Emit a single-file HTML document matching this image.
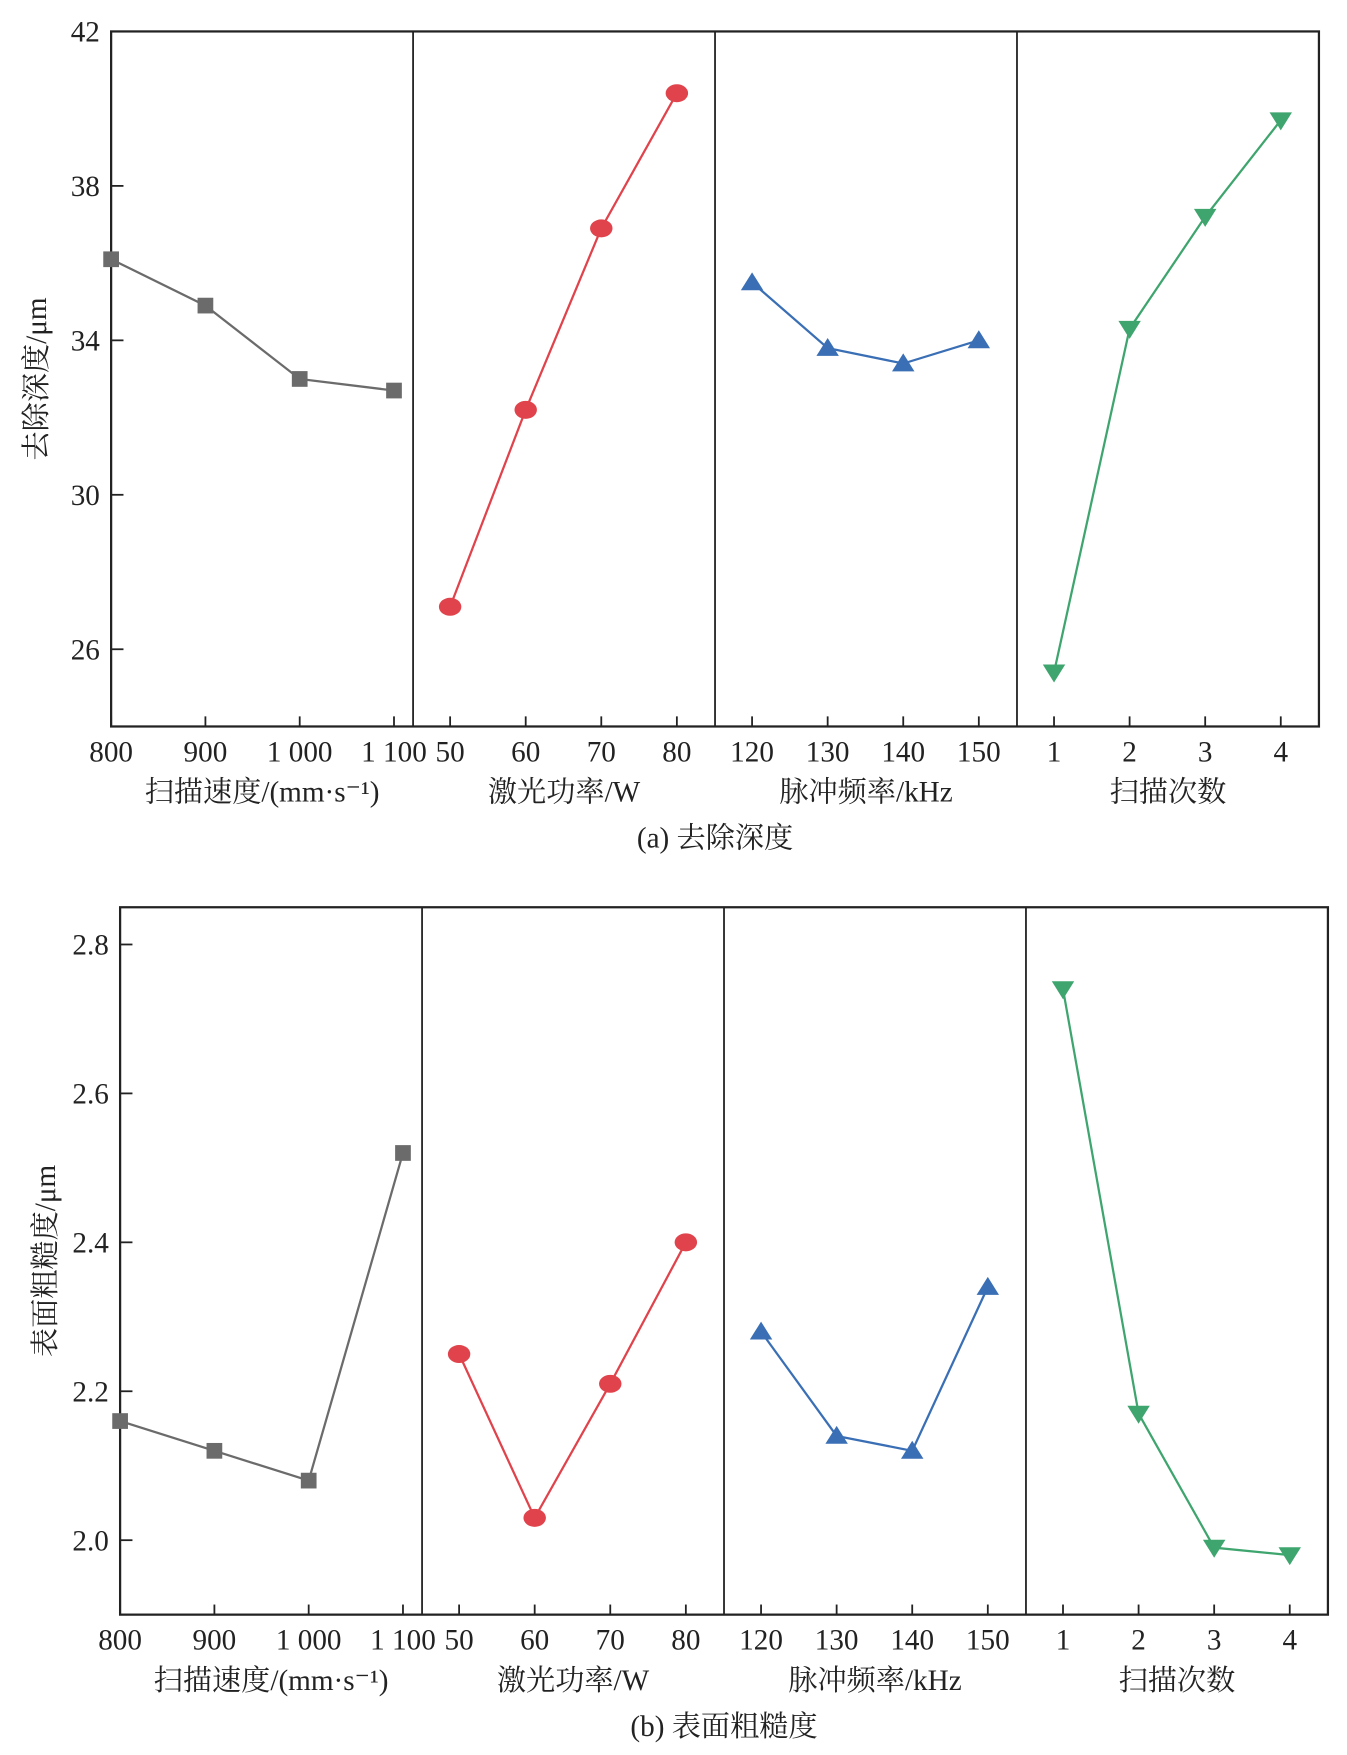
<!DOCTYPE html>
<html><head><meta charset="utf-8">
<style>
html,body{margin:0;padding:0;background:#fff;}
svg{display:block;}
text{font-family:"Liberation Serif","Noto Serif CJK SC",serif;fill:#222;}
</style></head>
<body>
<svg id="chart" width="1347" height="1755" viewBox="0 0 1200 1563" preserveAspectRatio="none" xmlns="http://www.w3.org/2000/svg" font-family="Liberation Serif, Noto Serif CJK SC, serif"></svg>
<script>
// ---- data ----
const speedCats = [800, 900, 1000, 1100];
const powerCats = [50, 60, 70, 80];
const freqCats = [120, 130, 140, 150];
const passCats = [1, 2, 3, 4];
const speedLabels = ["800", "900", "1 000", "1 100"];
const powerLabels = ["50", "60", "70", "80"];
const freqLabels = ["120", "130", "140", "150"];
const passLabels = ["1", "2", "3", "4"];
const depthSpeed = [36.1, 34.9, 33.0, 32.7];
const depthPower = [27.1, 32.2, 36.9, 40.4];
const depthFreq = [35.5, 33.8, 33.4, 34.0];
const depthPass = [25.4, 34.3, 37.2, 39.7];
const roughSpeed = [2.16, 2.12, 2.08, 2.52];
const roughPower = [2.25, 2.03, 2.21, 2.40];
const roughFreq = [2.28, 2.14, 2.12, 2.34];
const roughPass = [2.74, 2.17, 1.99, 1.98];
const depthTicks = [26, 30, 34, 38, 42];
const roughTicks = [2.0, 2.2, 2.4, 2.6, 2.8];
const panelTitles = ["扫描速度/(mm·s⁻¹)", "激光功率/W", "脉冲频率/kHz", "扫描次数"];

const NS = "http://www.w3.org/2000/svg";
const svg = document.getElementById("chart");
const FF = '"Liberation Serif","Noto Serif CJK SC",serif';
function el(tag, attrs, parent) {
  const e = document.createElementNS(NS, tag);
  for (const k in attrs) e.setAttribute(k, attrs[k]);
  if (tag === "text") e.setAttribute("style", "font-family:" + FF);
  (parent || svg).appendChild(e);
  return e;
}

const colors = ["#6b6b6b", "#e0434b", "#3a6fb5", "#3fa56e"];
const markers = ["square", "circle", "tri-up", "tri-down"];

function drawChart(cfg) {
  const g = el("g", {});
  
  
  const L = cfg.left, T = cfg.top, B = cfg.bottom, R = L + 4 * 269;
  const pw = (R - L) / 4;
  const y = v => B - (v - cfg.ymin) / (cfg.ymax - cfg.ymin) * (B - T);
  const fr = el("rect", {x: L, y: T, width: R - L, height: B - T, fill: "none", stroke: "#222", "stroke-width": 2}, g);
  
  
  for (let i = 1; i < 4; i++) {
    const d = el("line", {x1: L + i * pw, x2: L + i * pw, y1: T, y2: B, stroke: "#222", "stroke-width": 1.6}, g);
    
    
  }
  cfg.yticks.forEach(t => {
    const yy = y(t);
    const tk = el("line", {x1: L, x2: L + 11, y1: yy, y2: yy, stroke: "#222", "stroke-width": 1.6}, g);
    
    
    const tx = el("text", {x: L - 10, y: yy + 9, "text-anchor": "end", "font-size": 26}, g);
    tx.textContent = cfg.yfmt(t);
    
    
  });
  const yt = el("text", {x: 0, y: 0, "text-anchor": "middle", "font-size": 26, transform: `translate(${L - 58},${(T + B) / 2}) rotate(-90)`}, g);
  yt.textContent = cfg.ytitle;
  
  

  const cats = [speedCats, powerCats, freqCats, passCats];
  const labs = [speedLabels, powerLabels, freqLabels, passLabels];
  cfg.series.forEach((vals, p) => {
    const pl = L + p * pw;
    const a = p === 0 ? pl : pl + 33, b = p === 0 ? pl + 252 : pl + 235;
    const c = cats[p];
    const x = v => a + (v - c[0]) / (c[c.length - 1] - c[0]) * (b - a);
    c.forEach((cv, i) => {
      const xx = x(cv);
      const tk = el("line", {x1: xx, x2: xx, y1: B, y2: B - 9, stroke: "#222", "stroke-width": 1.6}, g);
      
      
      const tx = el("text", {x: xx, y: B + 31, "text-anchor": "middle", "font-size": 26}, g);
      tx.textContent = labs[p][i];
      
      
    });
    const tt = el("text", {x: pl + pw / 2, y: B + 67, "text-anchor": "middle", "font-size": 26}, g);
    tt.textContent = panelTitles[p];
    
    
    const pts = vals.map((v, i) => [x(c[i]), y(v)]);
    const line = el("polyline", {points: pts.map(q => q.join(",")).join(" "), fill: "none", stroke: colors[p], "stroke-width": 2}, g);
    
    
    pts.forEach(([px, py]) => {
      let m;
      const col = colors[p];
      if (markers[p] === "square") m = el("rect", {x: px - 7, y: py - 7, width: 14, height: 14, fill: col}, g);
      else if (markers[p] === "circle") m = el("ellipse", {cx: px, cy: py, rx: 10, ry: 8, fill: col}, g);
      else if (markers[p] === "tri-up") m = el("polygon", {points: `${px},${py - 9} ${px - 10},${py + 7} ${px + 10},${py + 7}`, fill: col}, g);
      else m = el("polygon", {points: `${px},${py + 9} ${px - 10},${py - 7} ${px + 10},${py - 7}`, fill: col}, g);
      
      
    });
  });
  const cap = el("text", {x: (L + R) / 2, y: B + 108, "text-anchor": "middle", "font-size": 26}, g);
  cap.textContent = cfg.caption;
  
  
}

drawChart({name: "removal-depth-chart", left: 99, top: 28, bottom: 647, ymin: 24, ymax: 42,
  yticks: depthTicks, yfmt: t => String(t), ytitle: "去除深度/μm",
  series: [depthSpeed, depthPower, depthFreq, depthPass], caption: "(a) 去除深度"});
drawChart({name: "surface-roughness-chart", left: 107, top: 808, bottom: 1438, ymin: 1.9, ymax: 2.85,
  yticks: roughTicks, yfmt: t => t.toFixed(1), ytitle: "表面粗糙度/μm",
  series: [roughSpeed, roughPower, roughFreq, roughPass], caption: "(b) 表面粗糙度"});
</script>
</body></html>
